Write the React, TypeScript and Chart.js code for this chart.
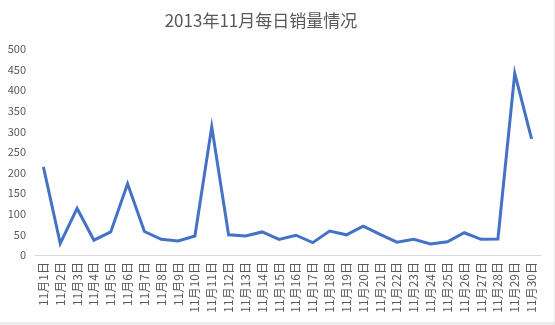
import React, { useEffect, useRef } from "react";
import { Chart, registerables } from "chart.js";

Chart.register(...registerables);

const titleText = "2013年11月每日销量情况";
const categories = [
  "11月1日", "11月2日", "11月3日", "11月4日", "11月5日", "11月6日", "11月7日", "11月8日", "11月9日", "11月10日",
  "11月11日", "11月12日", "11月13日", "11月14日", "11月15日", "11月16日", "11月17日", "11月18日", "11月19日", "11月20日",
  "11月21日", "11月22日", "11月23日", "11月24日", "11月25日", "11月26日", "11月27日", "11月28日", "11月29日", "11月30日",
];
const sales = [
  214, 28, 113, 36, 56, 173, 57, 38, 34, 46,
  311, 49, 46, 56, 38, 48, 30, 58, 49, 70,
  50, 31, 38, 27, 32, 54, 38, 39, 441, 282,
];
const yMin = 0;
const yMax = 500;
const yStep = 50;

const FONT = "'Noto Sans CJK SC', 'Noto Sans', sans-serif";
const TEXT_COLOR = "#595959";

export default function App() {
  const ref = useRef<HTMLCanvasElement | null>(null);

  useEffect(() => {
    document.body.style.margin = "0";
    const canvas = ref.current;
    if (!canvas) return;
    const chart = new Chart(canvas, {
      type: "line",
      data: {
        labels: categories,
        datasets: [
          {
            label: "销量",
            data: sales,
            borderColor: "#4472C4",
            backgroundColor: "#4472C4",
            borderWidth: 3,
            pointRadius: 0,
            pointHoverRadius: 0,
            tension: 0,
            borderJoinStyle: "miter",
          },
        ],
      },
      options: {
        responsive: false,
        animation: false,
        layout: { padding: { top: 49, right: 15, left: 0, bottom: 0 } },
        plugins: {
          legend: { display: false },
          title: { display: false },
          tooltip: { enabled: false },
        },
        scales: {
          x: {
            offset: true,
            grid: { display: false, drawTicks: false },
            border: { display: true, color: "#d9d9d9", width: 1 },
            ticks: {
              autoSkip: false,
              minRotation: 90,
              maxRotation: 90,
              padding: 7,
              color: TEXT_COLOR,
              font: { family: FONT, size: 12 },
            },
            afterFit: (s: any) => {
              s.height = 70;
            },
          },
          y: {
            min: yMin,
            max: yMax,
            grid: { display: false, drawTicks: false },
            border: { display: false },
            ticks: {
              stepSize: yStep,
              padding: 9,
              color: TEXT_COLOR,
              font: { family: FONT, size: 11 },
            },
            afterFit: (s: any) => {
              s.width = 35;
            },
          },
        },
      },
    });
    return () => chart.destroy();
  }, []);

  return (
    <div style={{ position: "relative", width: 555, height: 325, background: "#fff", overflow: "hidden" }}>
      <canvas ref={ref} width={555} height={325} style={{ position: "absolute", left: 0, top: 0 }} />
      <div
        style={{
          position: "absolute",
          left: 161,
          width: 200,
          top: 7,
          textAlign: "center",
          fontFamily: FONT,
          fontSize: 17,
          color: TEXT_COLOR,
          lineHeight: "26px",
          whiteSpace: "nowrap",
        }}
      >
        {titleText}
      </div>
      <div style={{ position: "absolute", left: 0, top: 322, width: 555, height: 3, background: "#ececec" }} />
      <div style={{ position: "absolute", left: 554, top: 0, width: 1, height: 325, background: "#ececec" }} />
    </div>
  );
}
